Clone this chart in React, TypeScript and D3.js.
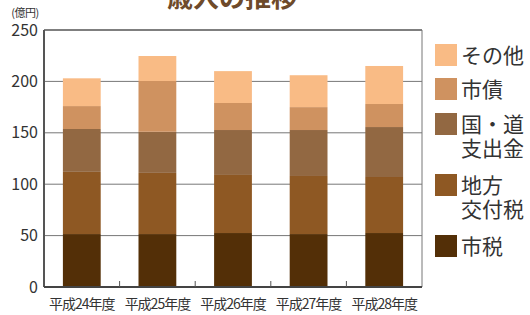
import React, { useRef, useEffect } from 'react';
import * as d3 from 'd3';

const years = ['平成24年度', '平成25年度', '平成26年度', '平成27年度', '平成28年度'];
// bottom to top
const seriesNames = ['市税', '地方交付税', '国・道支出金', '市債', 'その他'];
const shizei = [51.5, 51.5, 52.5, 51.5, 52.5];
const chihou = [60.5, 59.5, 56.5, 56.5, 54.5];
const kokudou = [41.7, 40, 43.7, 44.7, 48.6];
const shisai = [22.3, 49.4, 26.3, 22.3, 22.4];
const sonota = [27, 24.3, 31, 31, 37];
const yTicks = [0, 50, 100, 150, 200, 250];

const colors = ['#532F07', '#8E5823', '#926842', '#CF9260', '#F9BB85'];
const legendLabels = [['その他'], ['市債'], ['国・道', '支出金'], ['地方', '交付税'], ['市税']];
const legendColors = ['#F9BB85', '#CF9260', '#926842', '#8E5823', '#532F07'];

const App: React.FC = () => {
  const ref = useRef<SVGSVGElement | null>(null);

  useEffect(() => {
    if (!ref.current) return;
    const svg = d3.select(ref.current);
    svg.selectAll('*').remove();

    const font = '"Noto Sans CJK JP", "Noto Sans", sans-serif';
    const left = 44, right = 422, top = 30, bottom = 287;

    const rows = years.map((yr, i) => ({
      year: yr,
      '市税': shizei[i],
      '地方交付税': chihou[i],
      '国・道支出金': kokudou[i],
      '市債': shisai[i],
      'その他': sonota[i],
    }));

    const x = d3.scaleBand().domain(years).range([left, right]).paddingInner(0.5).paddingOuter(0.25);
    const y = d3.scaleLinear().domain([0, 250]).range([bottom, top]);

    // title (cut off at top, as in the original)
    svg.append('text')
      .attr('x', 232).attr('y', 7)
      .attr('text-anchor', 'middle')
      .attr('font-family', font).attr('font-weight', 'bold')
      .attr('font-size', 26).attr('fill', '#6E4A2A')
      .text('歳入の推移');

    // gridlines
    svg.append('g')
      .selectAll('line')
      .data(yTicks.filter(t => t > 0 && t < 250))
      .join('line')
      .attr('x1', left).attr('x2', right)
      .attr('y1', d => y(d)).attr('y2', d => y(d))
      .attr('stroke', '#777').attr('stroke-width', 1);

    // stacked bars
    const stack = d3.stack<any>().keys(seriesNames)(rows);
    svg.append('g')
      .selectAll('g')
      .data(stack)
      .join('g')
      .attr('fill', (_, i) => colors[i])
      .selectAll('rect')
      .data(d => d)
      .join('rect')
      .attr('x', d => x(d.data.year) || 0)
      .attr('width', x.bandwidth())
      .attr('y', d => y(d[1]))
      .attr('height', d => y(d[0]) - y(d[1]));

    // frame
    svg.append('line').attr('x1', left).attr('x2', right).attr('y1', top).attr('y2', top)
      .attr('stroke', '#555').attr('stroke-width', 1.5);
    svg.append('line').attr('x1', right).attr('x2', right).attr('y1', top).attr('y2', bottom)
      .attr('stroke', '#777').attr('stroke-width', 1);
    svg.append('line').attr('x1', left).attr('x2', left).attr('y1', top).attr('y2', bottom)
      .attr('stroke', '#555').attr('stroke-width', 2);
    svg.append('line').attr('x1', left).attr('x2', right).attr('y1', bottom).attr('y2', bottom)
      .attr('stroke', '#444').attr('stroke-width', 2);

    // small category separator ticks
    const step = x.step();
    svg.append('g')
      .selectAll('line')
      .data(years.slice(1))
      .join('line')
      .attr('x1', d => (x(d) || 0) - (step - x.bandwidth()) / 2)
      .attr('x2', d => (x(d) || 0) - (step - x.bandwidth()) / 2)
      .attr('y1', bottom).attr('y2', bottom - 6)
      .attr('stroke', '#555').attr('stroke-width', 1);

    // y tick labels
    svg.append('g')
      .selectAll('text')
      .data(yTicks)
      .join('text')
      .attr('x', 38).attr('y', d => y(d))
      .attr('dy', '0.35em')
      .attr('text-anchor', 'end')
      .attr('font-family', font).attr('font-size', 16).attr('fill', '#333')
      .text(d => d);

    svg.append('text')
      .attr('x', 25).attr('y', 17)
      .attr('text-anchor', 'middle')
      .attr('font-family', font).attr('font-size', 11).attr('fill', '#333')
      .attr('letter-spacing', -0.5)
      .text('(億円)');

    // x labels
    svg.append('g')
      .selectAll('text')
      .data(years)
      .join('text')
      .attr('x', d => (x(d) || 0) + x.bandwidth() / 2)
      .attr('y', 309)
      .attr('text-anchor', 'middle')
      .attr('font-family', font).attr('font-size', 14).attr('fill', '#333')
      .attr('letter-spacing', -1)
      .text(d => d);

    // legend
    const legendTops = [44, 78, 113, 174, 235];
    const lg = svg.append('g');
    legendLabels.forEach((lines, i) => {
      lg.append('rect')
        .attr('x', 435).attr('y', legendTops[i])
        .attr('width', 22).attr('height', 22)
        .attr('fill', legendColors[i]);
      lines.forEach((t, j) => {
        lg.append('text')
          .attr('x', 461).attr('y', legendTops[i] + 11 + j * 24)
          .attr('dy', '0.36em')
          .attr('font-family', font).attr('font-size', 21).attr('fill', '#333')
          .text(t);
      });
    });
  }, []);

  return (
    <svg ref={ref} width={530} height={315}
      style={{ position: 'absolute', left: 0, top: 0, background: '#fff' }} />
  );
};

export default App;
